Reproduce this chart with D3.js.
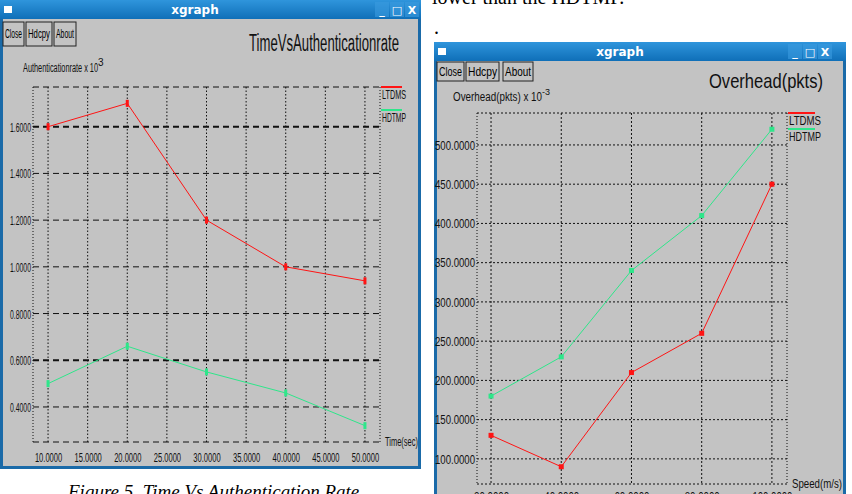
<!DOCTYPE html>
<html>
<head>
<meta charset="utf-8">
<script src="https://cdn.jsdelivr.net/npm/d3@7"></script>
<style>
  body { margin: 0; background: #fff; }
  svg { display: block; }
</style>
</head>
<body>
<svg id="page" width="852" height="494"></svg>
<script>
// --- data: Time vs Authentication rate (x 10^3)
const authTimes = [10, 20, 30, 40, 50];
const authLTDMS = [1.60, 1.70, 1.20, 1.00, 0.94];
const authHDTMP = [0.50, 0.66, 0.55, 0.46, 0.32];
const authXTicks = [10, 15, 20, 25, 30, 35, 40, 45, 50];
const authYTicks = [0.4, 0.6, 0.8, 1.0, 1.2, 1.4, 1.6];

// --- data: Speed vs Overhead(pkts) (x 10^-3)
const speeds = [20, 40, 60, 80, 100];
const overLTDMS = [130, 90, 210, 260, 450];
const overHDTMP = [180, 230, 340, 410, 520];
const overXTicks = [20, 40, 60, 80, 100];
const overYTicks = [100, 150, 200, 250, 300, 350, 400, 450, 500];

const seriesNames = ['LTDMS', 'HDTMP'];
const seriesColors = ['#ff1414', '#2ee68a'];

const svg = d3.select('#page');
const fmt = d3.format('.4f');
const sans = 'Liberation Sans, Arial, sans-serif';
const serif = 'Liberation Serif, Times New Roman, serif';

// squeeze a text to a given width (xgraph fonts are very narrow)
function squeeze(sel, len) {
    sel.attr('textLength', len).attr('lengthAdjust', 'spacingAndGlyphs');
}

// page text around the screenshots
svg.append('text')
   .attr('x', 432).attr('y', 4)
   .attr('font-family', serif).attr('font-size', 20)
   .text('lower than the HDTMP.');
svg.append('text')
   .attr('x', 434).attr('y', 34)
   .attr('font-family', serif).attr('font-size', 20)
   .text('.');
svg.append('text')
   .attr('x', 68).attr('y', 498)
   .attr('font-family', serif).attr('font-size', 19).attr('font-style', 'italic')
   .text('Figure 5. Time Vs Authentication Rate');

// xgraph window frame
function drawWindow(x, y, w, h, titleX, buttonsX) {
    const g = svg.append('g');
    const grad = svg.append('defs').append('linearGradient')
       .attr('id', 'tb' + x).attr('x1', 0).attr('x2', 0).attr('y1', 0).attr('y2', 1);
    grad.append('stop').attr('offset', 0).attr('stop-color', '#2f95dc');
    grad.append('stop').attr('offset', 1).attr('stop-color', '#0f6fb8');

    g.append('rect').attr('x', x).attr('y', y).attr('width', w).attr('height', h)
       .attr('fill', '#1a6aa8');
    g.append('rect').attr('x', x + 3).attr('y', y + 19).attr('width', w - 6).attr('height', h - 22)
       .attr('fill', '#c3c3c3');
    g.append('rect').attr('x', x).attr('y', y).attr('width', w).attr('height', 19)
       .attr('fill', `url(#tb${x})`);
    g.append('rect').attr('x', x + 4).attr('y', y + 6).attr('width', 8).attr('height', 7)
       .attr('fill', '#fff');
    g.append('text').attr('x', titleX).attr('y', y + 14)
       .attr('text-anchor', 'middle').attr('fill', '#fff')
       .attr('font-family', 'DejaVu Sans, sans-serif').attr('font-weight', 'bold').attr('font-size', 12)
       .text('xgraph');
    ['_', '\u25a1', 'X'].forEach((s, i) => {
        g.append('rect').attr('x', buttonsX + i * 15 - 7).attr('y', y + 2).attr('width', 14).attr('height', 15)
           .attr('fill', '#3a9be0').attr('opacity', 0.6);
        g.append('text').attr('x', buttonsX + i * 15).attr('y', y + 14)
           .attr('text-anchor', 'middle').attr('fill', '#fff')
           .attr('font-family', 'DejaVu Sans, sans-serif').attr('font-size', 11).attr('font-weight', 'bold')
           .text(s);
    });
    return g;
}

function drawButtons(g, items) {
    items.forEach(b => {
        g.append('rect').attr('x', b.x).attr('y', b.y).attr('width', b.w).attr('height', b.h)
           .attr('fill', '#c3c3c3').attr('stroke', '#222').attr('stroke-width', 1);
        g.append('text').attr('x', b.x + b.w / 2).attr('y', b.y + b.h / 2 + 4)
           .attr('text-anchor', 'middle').attr('font-family', sans).attr('font-size', 12)
           .call(squeeze, b.w - 4)
           .text(b.label);
    });
}

// generic xgraph-like chart
function drawGraph(g, c) {
    const x = d3.scaleLinear().domain(c.xDomain).range([c.left, c.right]);
    const y = d3.scaleLinear().domain(c.yDomain).range([c.bottom, c.top]);

    // horizontal grid
    g.selectAll(null).data(c.yTicks).join('line')
       .attr('x1', c.left).attr('x2', c.right)
       .attr('y1', d => y(d)).attr('y2', d => y(d))
       .attr('stroke', '#111')
       .attr('stroke-width', d => c.boldY.includes(d) ? 2 : 1)
       .attr('stroke-dasharray', c.hDash);
    // vertical grid
    g.selectAll(null).data(c.xTicks).join('line')
       .attr('x1', d => x(d)).attr('x2', d => x(d))
       .attr('y1', c.top).attr('y2', c.bottom)
       .attr('stroke', '#111').attr('stroke-dasharray', c.vDash);
    // frame
    g.append('line').attr('x1', c.left).attr('x2', c.right).attr('y1', c.top).attr('y2', c.top)
       .attr('stroke', '#111').attr('stroke-dasharray', c.hDash);
    g.append('line').attr('x1', c.left).attr('x2', c.right).attr('y1', c.bottom).attr('y2', c.bottom)
       .attr('stroke', '#111').attr('stroke-dasharray', c.hDash);
    [c.left, c.right].forEach(px => {
        g.append('line').attr('x1', px).attr('x2', px).attr('y1', c.top).attr('y2', c.bottom)
           .attr('stroke', '#111').attr('stroke-dasharray', '1,2');
    });

    // axes (labels only)
    const yAxis = g.append('g')
       .attr('transform', `translate(${c.left - 1},0)`)
       .call(d3.axisLeft(y).tickValues(c.yTicks).tickFormat(fmt).tickSize(0).tickPadding(1));
    const xAxis = g.append('g')
       .attr('transform', `translate(0,${c.bottom})`)
       .call(d3.axisBottom(x).tickValues(c.xTicks).tickFormat(fmt).tickSize(0).tickPadding(c.xPad));
    [yAxis, xAxis].forEach(a => {
        a.select('.domain').remove();
        a.selectAll('text').attr('font-family', sans).attr('font-size', c.tickSize).attr('fill', '#111');
    });
    yAxis.selectAll('text').attr('dy', '0.35em').call(squeeze, c.yLabelW);
    xAxis.selectAll('text').attr('dy', '0.71em').each(function (d) {
        d3.select(this).call(squeeze, String(fmt(d)).length * c.xCharW);
    });

    // series
    c.series.forEach((vals, i) => {
        const pts = c.xs.map((xv, j) => [xv, vals[j]]);
        g.append('path').datum(pts)
           .attr('fill', 'none').attr('stroke', seriesColors[i]).attr('stroke-width', 1)
           .attr('d', d3.line().x(d => x(d[0])).y(d => y(d[1])));
        g.selectAll(null).data(pts).join('rect')
           .attr('x', d => x(d[0]) - c.mark[0] / 2).attr('y', d => y(d[1]) - c.mark[1] / 2)
           .attr('width', c.mark[0]).attr('height', c.mark[1])
           .attr('fill', seriesColors[i]);
    });

    // legend
    seriesNames.forEach((name, i) => {
        const ly = c.top + i * c.legendGap;
        g.append('line').attr('x1', c.right + 1).attr('x2', c.right + c.legendW)
           .attr('y1', ly).attr('y2', ly).attr('stroke', seriesColors[i]).attr('stroke-width', 2);
        g.append('text').attr('x', c.right + 2).attr('y', ly + 12)
           .attr('font-family', sans).attr('font-size', 13).attr('fill', '#111')
           .call(squeeze, c.legendTextW)
           .text(name);
    });
}

// ---------- left window ----------
const w1 = drawWindow(0, 0, 421, 469, 195, 382);
drawButtons(w1, [
    { x: 3, y: 22, w: 21, h: 24, label: 'Close' },
    { x: 26, y: 22, w: 26, h: 24, label: 'Hdcpy' },
    { x: 54, y: 22, w: 22, h: 24, label: 'About' }
]);
w1.append('text').attr('x', 249).attr('y', 51)
   .attr('font-family', sans).attr('font-size', 23).attr('fill', '#111')
   .call(squeeze, 150).text('TimeVsAuthenticationrate');
const lab1 = w1.append('text').attr('x', 23).attr('y', 72)
   .attr('font-family', sans).attr('font-size', 12).attr('fill', '#111');
lab1.append('tspan').text('Authenticationrate x 10').call(squeeze, 75);
lab1.append('tspan').attr('dy', -6).attr('font-size', 10).text('3');
w1.append('text').attr('x', 385).attr('y', 446)
   .attr('font-family', sans).attr('font-size', 13).attr('fill', '#111')
   .call(squeeze, 33).text('Time(sec)');

drawGraph(w1, {
    left: 33, right: 380, top: 87, bottom: 442,
    xDomain: [8.1, 51.9], yDomain: [0.25, 1.77],
    xTicks: authXTicks, yTicks: authYTicks, boldY: [1.6, 0.6],
    hDash: '6,4', vDash: '1.5,2',
    xs: authTimes, series: [authLTDMS, authHDTMP],
    tickSize: 13, yLabelW: 21, xCharW: 3.9, xPad: 11,
    mark: [3, 7], legendGap: 23, legendW: 22, legendTextW: 24
});

// ---------- right window ----------
const w2 = drawWindow(434, 42, 412, 470, 620, 795);
drawButtons(w2, [
    { x: 437, y: 62, w: 27, h: 19, label: 'Close' },
    { x: 466, y: 62, w: 33, h: 19, label: 'Hdcpy' },
    { x: 503, y: 62, w: 30, h: 19, label: 'About' }
]);
w2.append('text').attr('x', 709).attr('y', 88)
   .attr('font-family', sans).attr('font-size', 21).attr('fill', '#111')
   .call(squeeze, 114).text('Overhead(pkts)');
const lab2 = w2.append('text').attr('x', 453).attr('y', 101)
   .attr('font-family', sans).attr('font-size', 12).attr('fill', '#111');
lab2.append('tspan').text('Overhead(pkts) x 10').call(squeeze, 89);
lab2.append('tspan').attr('dy', -6).attr('font-size', 9).text('-3');
w2.append('text').attr('x', 792).attr('y', 488)
   .attr('font-family', sans).attr('font-size', 13).attr('fill', '#111')
   .call(squeeze, 50).text('Speed(m/s)');

drawGraph(w2, {
    left: 477, right: 787, top: 113, bottom: 484,
    xDomain: [16, 104.3], yDomain: [68, 540.7],
    xTicks: overXTicks, yTicks: overYTicks, boldY: [],
    hDash: '2,2', vDash: '2,2',
    xs: speeds, series: [overLTDMS, overHDTMP],
    tickSize: 12, yLabelW: 40, xCharW: 5, xPad: 8,
    mark: [5, 5], legendGap: 16, legendW: 28, legendTextW: 32
});
</script>
</body>
</html>
